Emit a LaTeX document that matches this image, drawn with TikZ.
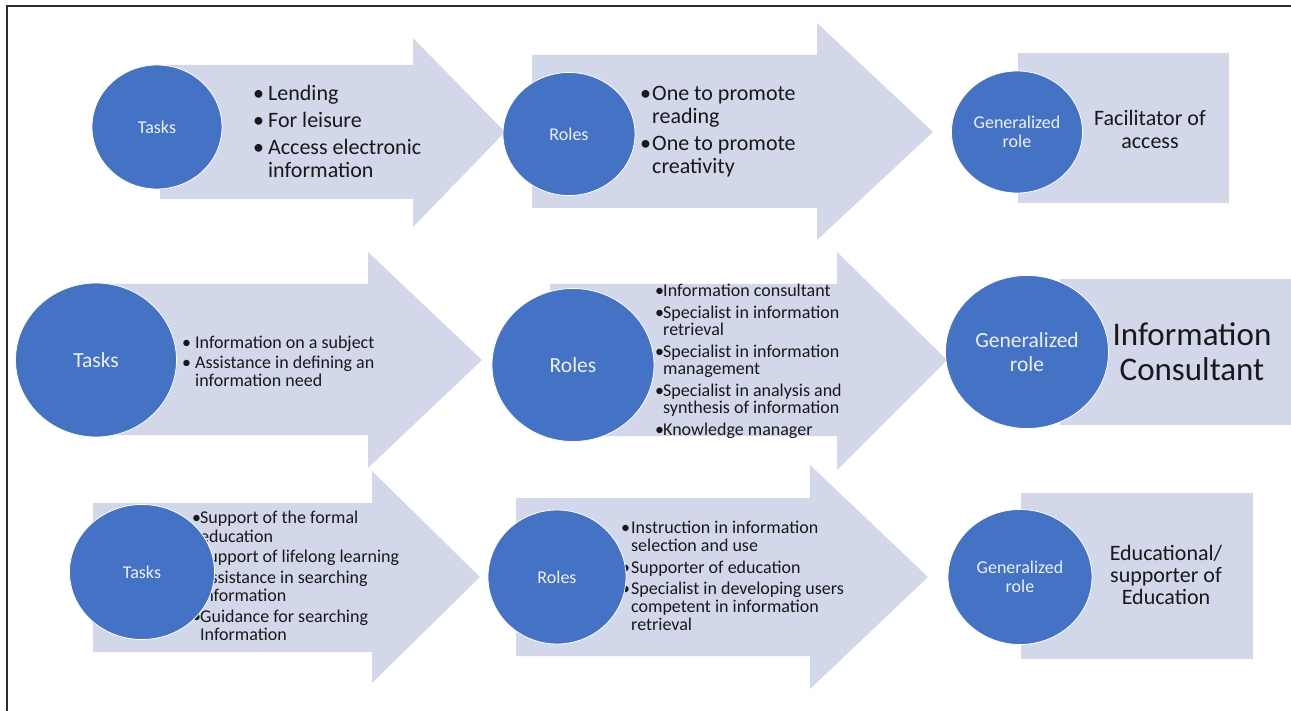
\documentclass[tikz,border=0pt]{standalone}
\usepackage{fontspec}
\setmainfont{Carlito}
\usetikzlibrary{shapes.geometric}
\definecolor{arrowfill}{RGB}{210,215,234}
\definecolor{circfill}{RGB}{68,114,196}
\definecolor{circtext}{RGB}{236,241,250}
\definecolor{bodytext}{RGB}{25,25,25}
\definecolor{framecol}{RGB}{45,45,45}
\newcommand{\bu}[1]{\makebox[#1pt][l]{•}}
\newcommand{\ind}[1]{\hspace*{#1pt}}
\begin{document}
\begin{tikzpicture}[x=1pt,y=-1pt,
  bigarrow/.style={fill=arrowfill, draw=none},
  genbox/.style={fill=arrowfill, draw=none},
  bubble/.style={ellipse, fill=circfill, draw=white, line width=0.8pt, inner sep=0pt, text=circtext, align=center},
  listtext/.style={anchor=north west, inner sep=0pt, align=left, text=bodytext},
  roletext/.style={inner sep=0pt, align=center, text=bodytext}]
\useasboundingbox (0,0) rectangle (1291,711);
\fill[white] (0,0) rectangle (1291,711);

% ---------- row 1 ----------
\fill[bigarrow] (160,65) -- (413,65) -- (413,38) -- (505,132) -- (413,227) -- (413,199) -- (160,199) -- cycle;
\fill[bigarrow] (532,55) -- (817,55) -- (817,23) -- (933,132) -- (817,240) -- (817,208) -- (532,208) -- cycle;
\fill[genbox] (1018,53) rectangle (1229,203);
\node[listtext, font=\fontsize{22}{23}\selectfont] (t1) at (253,85)
  {\bu{15}Lending\\[4pt]\bu{15}For leisure\\[4pt]\bu{15}Access electronic\\\ind{15}information};
\node[listtext, font=\fontsize{22}{23}\selectfont] (r1) at (640,86)
  {\bu{12}One to promote\\\ind{12}reading\\[4pt]\bu{12}One to promote\\\ind{12}creativity};
\node[bubble, minimum width=130pt, minimum height=124pt, font=\fontsize{18}{18.5}\selectfont] (c1) at (157,127) {Tasks};
\node[bubble, minimum width=132pt, minimum height=123pt, font=\fontsize{18}{18.5}\selectfont] (c2) at (569,134) {Roles};
\node[bubble, minimum width=131pt, minimum height=122pt, font=\fontsize{18}{18.5}\selectfont] (c3) at (1017,132) {Generalized\\role};
\node[roletext, font=\fontsize{22}{23}\selectfont] (g1) at (1150,129) {Facilitator of\\access};

% ---------- row 2 ----------
\fill[bigarrow] (96,284) -- (368,284) -- (368,252) -- (482,360) -- (368,468) -- (368,435) -- (96,435) -- cycle;
\fill[bigarrow] (550,284) -- (837,284) -- (837,252) -- (947,360) -- (837,470) -- (837,436) -- (550,436) -- cycle;
\fill[genbox] (1060,279) rectangle (1291,425);
\node[listtext, font=\fontsize{18}{17.5}\selectfont] (t2) at (182,336)
  {\bu{13}Information on a subject\\[2.5pt]\bu{13}Assistance in defining an\\\ind{13}information need};
\node[listtext, font=\fontsize{18}{17.5}\selectfont] (r2) at (655,284)
  {\bu{8}Information consultant\\[4pt]\bu{8}Specialist in information\\\ind{8}retrieval\\[4pt]\bu{8}Specialist in information\\\ind{8}management\\[4pt]\bu{8}Specialist in analysis and\\\ind{8}synthesis of information\\[4pt]\bu{8}Knowledge manager};
\node[bubble, minimum width=161pt, minimum height=154pt, font=\fontsize{21.5}{23}\selectfont] (c4) at (96,360) {Tasks};
\node[bubble, minimum width=162pt, minimum height=153pt, font=\fontsize{21.5}{23}\selectfont] (c5) at (573,365) {Roles};
\node[bubble, minimum width=163pt, minimum height=153pt, font=\fontsize{21.5}{23.5}\selectfont] (c6) at (1027,352) {Generalized\\role};
\node[roletext, font=\fontsize{33}{35}\selectfont] (g2) at (1192,352) {Information\\Consultant};

% ---------- row 3 ----------
\fill[bigarrow] (93,503) -- (372,503) -- (372,471) -- (480,577) -- (372,683) -- (372,652) -- (93,652) -- cycle;
\fill[bigarrow] (516,498) -- (810,498) -- (810,465) -- (928,577) -- (810,689) -- (810,656) -- (516,656) -- cycle;
\fill[genbox] (1021,493) rectangle (1253,659);
\node[listtext, font=\fontsize{18}{18.5}\selectfont] (t3) at (192,511)
  {\bu{8}Support of the formal\\\ind{8}education\\[2pt]\bu{8}Support of lifelong learning\\[2pt]\bu{8}Assistance in searching\\\ind{8}information\\[2pt]\bu{8}Guidance for searching\\\ind{8}Information};
\node[listtext, font=\fontsize{18}{18}\selectfont] (r3) at (621,521)
  {\bu{10}Instruction in information\\\ind{10}selection and use\\[3.5pt]\bu{10}Supporter of education\\[3.5pt]\bu{10}Specialist in developing users\\\ind{10}competent in information\\\ind{10}retrieval};
\node[bubble, minimum width=145pt, minimum height=135pt, font=\fontsize{18}{18.5}\selectfont] (c7) at (142,572) {Tasks};
\node[bubble, minimum width=138pt, minimum height=134pt, font=\fontsize{18}{18.5}\selectfont] (c8) at (557,577) {Roles};
\node[bubble, minimum width=144pt, minimum height=135pt, font=\fontsize{18}{19}\selectfont] (c9) at (1020,577) {Generalized\\role};
\node[roletext, font=\fontsize{22}{22}\selectfont] (g3) at (1166,575) {Educational/\\supporter of\\Education};

% ---------- frame ----------
\draw[framecol, line width=2pt] (7,711) -- (7,6) -- (1291,6);
\end{tikzpicture}
\end{document}
